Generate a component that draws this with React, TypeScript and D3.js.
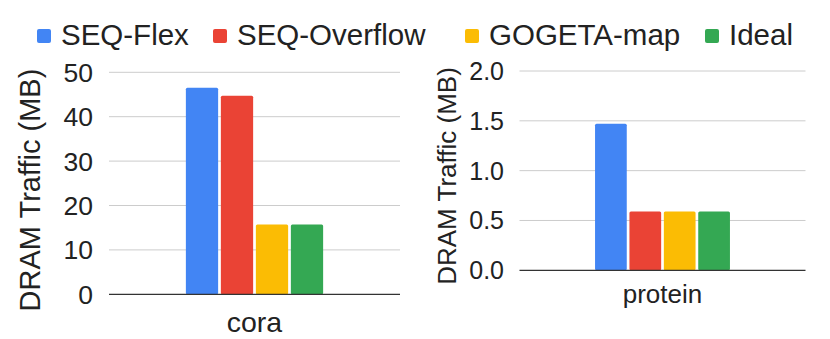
import React from "react";
import * as d3 from "d3";

const seriesNames = ["SEQ-Flex", "SEQ-Overflow", "GOGETA-map", "Ideal"];
const seriesColors = ["#4285F4", "#EA4335", "#FBBC04", "#34A853"];
const coraValues = [46.5, 44.7, 15.7, 15.7];
const proteinValues = [1.47, 0.59, 0.59, 0.59];
const coraTicks = [0, 10, 20, 30, 40, 50];
const proteinTicks = [0, 0.5, 1.0, 1.5, 2.0];

const legendX = [37, 213, 465, 705];

type PanelProps = {
  category: string;
  values: number[];
  ticks: number[];
  domainMax: number;
  fmt: (v: number) => string;
  x0: number;
  x1: number;
  yTop: number;
  yBottom: number;
  tickRight: number;
  tickFont: number;
  titleX: number;
  titleY: number;
  titleFont: number;
  labelY: number;
  labelFont: number;
};

function Panel(p: PanelProps) {
  const y = d3.scaleLinear().domain([0, p.domainMax]).range([p.yBottom, p.yTop]);
  const outer = d3.scaleBand<string>().domain([p.category]).range([p.x0, p.x1]).paddingInner(0).paddingOuter(0.56);
  const inner = d3
    .scaleBand<string>()
    .domain(seriesNames)
    .range([0, outer.bandwidth()])
    .paddingInner(0.078)
    .paddingOuter(0);
  const gx = outer(p.category) as number;
  return (
    <g>
      {p.ticks.map((t) => (
        <g key={t}>
          {t !== 0 && (
            <line x1={p.x0} x2={p.x1} y1={y(t)} y2={y(t)} stroke="#cccccc" strokeWidth={1} />
          )}
          <text
            x={p.tickRight}
            y={y(t)}
            dy="0.36em"
            textAnchor="end"
            fontSize={p.tickFont}
            fill="#222"
          >
            {p.fmt(t)}
          </text>
        </g>
      ))}
      {p.values.map((v, i) => (
        <rect
          key={i}
          x={gx + (inner(seriesNames[i]) as number)}
          y={y(v)}
          width={inner.bandwidth()}
          height={y(0) - y(v)}
          fill={seriesColors[i]}
          rx={1.5}
        />
      ))}
      <line x1={p.x0} x2={p.x1} y1={y(0)} y2={y(0)} stroke="#333" strokeWidth={1.2} />
      <text
        x={gx + outer.bandwidth() / 2}
        y={p.labelY}
        textAnchor="middle"
        fontSize={p.labelFont}
        fill="#222"
      >
        {p.category}
      </text>
      <text
        transform={`translate(${p.titleX},${p.titleY}) rotate(-90)`}
        textAnchor="middle"
        dy="0.36em"
        fontSize={p.titleFont}
        fill="#222"
      >
        DRAM Traffic (MB)
      </text>
    </g>
  );
}

export default function App() {
  return (
    <svg
      width={830}
      height={339}
      style={{ position: "absolute", left: 0, top: 0, background: "#fff" }}
      fontFamily="'Liberation Sans', Arial, Helvetica, sans-serif"
    >
      <rect width={830} height={339} fill="#fff" />
      {seriesNames.map((s, i) => (
        <g key={s}>
          <rect x={legendX[i]} y={29} width={14} height={14} rx={2} fill={seriesColors[i]} />
          <text x={legendX[i] + 24} y={45} fontSize={29.5} fill="#222">
            {s}
          </text>
        </g>
      ))}
      <Panel
        category="cora"
        values={coraValues}
        ticks={coraTicks}
        domainMax={50}
        fmt={(v) => d3.format("d")(v)}
        x0={109}
        x1={400}
        yTop={72.3}
        yBottom={294.3}
        tickRight={93}
        tickFont={26.5}
        titleX={30}
        titleY={190}
        titleFont={29}
        labelY={332}
        labelFont={28.5}
      />
      <Panel
        category="protein"
        values={proteinValues}
        ticks={proteinTicks}
        domainMax={2}
        fmt={(v) => d3.format(".1f")(v)}
        x0={519.5}
        x1={805.5}
        yTop={71}
        yBottom={270.3}
        tickRight={504}
        tickFont={25}
        titleX={447}
        titleY={176}
        titleFont={26}
        labelY={303}
        labelFont={26}
      />
    </svg>
  );
}
